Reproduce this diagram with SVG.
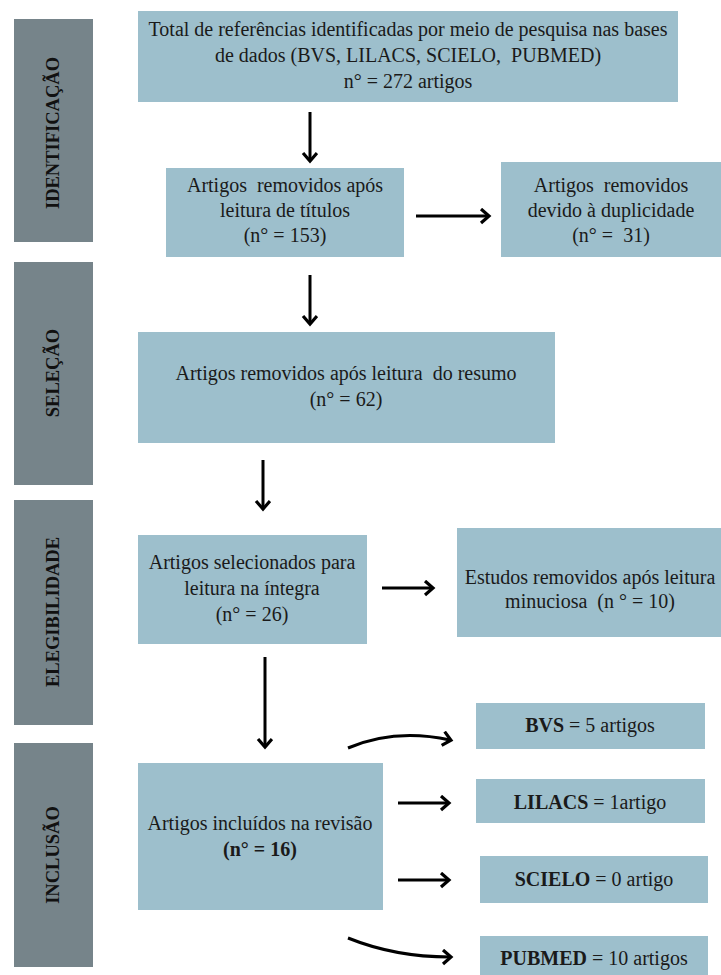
<svg xmlns="http://www.w3.org/2000/svg" width="721" height="975" viewBox="0 0 721 975">
<style>
.bar{fill:#76848a}
.box{fill:#9dbfcc}
.lbl{font-family:"Liberation Serif","Times New Roman",serif;font-weight:bold;font-size:18.5px;fill:#111;text-anchor:middle}
.t{font-family:"Liberation Serif","Times New Roman",serif;font-size:20px;fill:#1a1a1a;text-anchor:middle}
.b{font-weight:bold}
.c{fill:none;stroke:#000;stroke-width:3}
</style>
<defs>
<marker id="ah" markerUnits="userSpaceOnUse" markerWidth="16" markerHeight="18" refX="9" refY="8" orient="auto">
<path d="M2,1 L10,8 L2,15" fill="none" stroke="#000" stroke-width="3.2"/>
</marker>
</defs>
<rect width="721" height="975" fill="#fff"/>
<g id="stage-identificacao"><rect class="bar" x="14" y="19" width="79" height="223"/><text class="lbl" transform="translate(59,133) rotate(-90)">IDENTIFICAÇÃO</text></g>
<g id="stage-selecao"><rect class="bar" x="14" y="262" width="79" height="223"/><text class="lbl" transform="translate(59,373) rotate(-90)">SELEÇÃO</text></g>
<g id="stage-elegibilidade"><rect class="bar" x="14" y="500" width="79" height="225"/><text class="lbl" transform="translate(59,612) rotate(-90)">ELEGIBILIDADE</text></g>
<g id="stage-inclusao"><rect class="bar" x="14" y="743" width="79" height="224"/><text class="lbl" transform="translate(59,855) rotate(-90)">INCLUSÃO</text></g>

<g id="n-total"><rect class="box" x="138" y="11" width="540" height="91"/>
<text class="t" x="408" y="36">Total de referências identificadas por meio de pesquisa nas bases</text>
<text class="t" x="408" y="62" xml:space="preserve">de dados (BVS, LILACS, SCIELO,  PUBMED)</text>
<text class="t" x="408" y="88">n° = 272 artigos</text></g>

<g id="n-titulos"><rect class="box" x="166" y="168" width="238" height="89"/>
<text class="t" x="285" y="192" xml:space="preserve">Artigos  removidos após</text>
<text class="t" x="285" y="217">leitura de títulos</text>
<text class="t" x="285" y="242">(n° = 153)</text></g>

<g id="n-duplicidade"><rect class="box" x="501" y="162" width="220" height="95"/>
<text class="t" x="611" y="192" xml:space="preserve">Artigos  removidos</text>
<text class="t" x="611" y="217">devido à duplicidade</text>
<text class="t" x="611" y="242" xml:space="preserve">(n° =  31)</text></g>

<g id="n-resumo"><rect class="box" x="138" y="332" width="417" height="111"/>
<text class="t" x="346" y="380" xml:space="preserve">Artigos removidos após leitura  do resumo</text>
<text class="t" x="346" y="406">(n° = 62)</text></g>

<g id="n-integra"><rect class="box" x="138" y="535" width="229" height="109"/>
<text class="t" x="252" y="569">Artigos selecionados para</text>
<text class="t" x="252" y="595">leitura na íntegra</text>
<text class="t" x="252" y="621">(n° = 26)</text></g>

<g id="n-minuciosa"><rect class="box" x="457" y="528" width="264" height="109"/>
<text class="t" x="590" y="584">Estudos removidos após leitura</text>
<text class="t" x="590" y="608" xml:space="preserve">minuciosa  (n ° = 10)</text></g>

<g id="n-incluidos"><rect class="box" x="138" y="763" width="245" height="147"/>
<text class="t" x="260" y="830">Artigos incluídos na revisão</text>
<text class="t b" x="260" y="856">(n° = 16)</text></g>

<g id="n-bvs"><rect class="box" x="476" y="703" width="229" height="46"/>
<text class="t" x="590" y="732"><tspan class="b">BVS</tspan> = 5 artigos</text></g>
<g id="n-lilacs"><rect class="box" x="476" y="779" width="229" height="44"/>
<text class="t" x="590" y="809"><tspan class="b">LILACS</tspan> = 1artigo</text></g>
<g id="n-scielo"><rect class="box" x="480" y="856" width="228" height="47"/>
<text class="t" x="594" y="886"><tspan class="b">SCIELO</tspan> = 0 artigo</text></g>
<g id="n-pubmed"><rect class="box" x="480" y="936" width="228" height="39"/>
<text class="t" x="594" y="965"><tspan class="b">PUBMED</tspan> = 10 artigos</text></g>

<g id="connectors">
<path class="c" d="M310,112 V160" marker-end="url(#ah)"/>
<path class="c" d="M416,216 H488" marker-end="url(#ah)"/>
<path class="c" d="M310,275 V323" marker-end="url(#ah)"/>
<path class="c" d="M263,460 V508" marker-end="url(#ah)"/>
<path class="c" d="M382,588 H432" marker-end="url(#ah)"/>
<path class="c" d="M265,657 V746" marker-end="url(#ah)"/>
<path class="c" d="M348,748 Q395,728 450,740" marker-end="url(#ah)"/>
<path class="c" d="M398,803 H448" marker-end="url(#ah)"/>
<path class="c" d="M398,880 H448" marker-end="url(#ah)"/>
<path class="c" d="M348,938 Q395,957 450,957" marker-end="url(#ah)"/>
</g>
</svg>
